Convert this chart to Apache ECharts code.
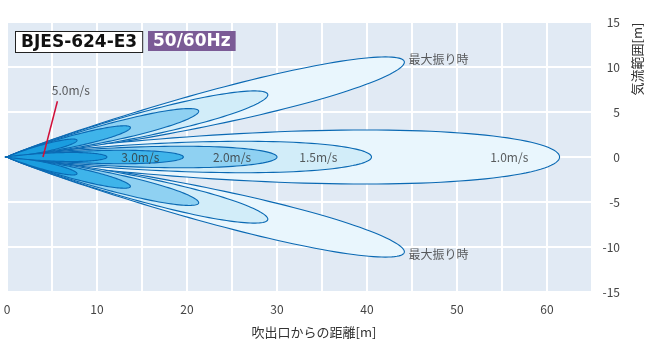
<!DOCTYPE html>
<html>
<head>
<meta charset="utf-8">
<script src="https://cdn.jsdelivr.net/npm/echarts@6/dist/echarts.min.js"></script>
<style>
  html, body { margin: 0; padding: 0; background: #fff; }
  #chart { width: 649px; height: 352px; }
</style>
</head>
<body>
<div id="chart"></div>
<script>
// 風速ごとの到達範囲（外側から順に）
const speeds = ['1.0m/s', '1.5m/s', '2.0m/s', '3.0m/s', '5.0m/s']
const centerLength = [61.4, 40.5, 30.0, 19.6, 11.1]
const centerWidth = [3.0, 1.75, 1.2, 0.75, 0.5]
const swingLength = [45.4, 29.8, 21.9, 14.1, 8.0]
const swingWidth = [2.0, 1.4, 1.0, 0.65, 0.42]
const swingAngle = 13.5 // 最大振り時の角度[deg]
const xTicks = [0, 10, 20, 30, 40, 50, 60]
const yTicks = [-15, -10, -5, 0, 5, 10, 15]

const fillColors = ['#e9f6fd', '#d2edf9', '#8fd1f2', '#3fb4ea', '#1a9ddf']
const lineColor = '#0a69b3'
const font = '"Noto Sans CJK JP", "Noto Sans", sans-serif'

// lobes: [length, halfWidth, angle, level]
const lobes = []
speeds.forEach((s, i) => {
  lobes.push([swingLength[i], swingWidth[i], swingAngle, i])
  lobes.push([swingLength[i], swingWidth[i], -swingAngle, i])
  lobes.push([centerLength[i], centerWidth[i], 0, i])
})

function renderLobe(params, api) {
  const L = api.value(0)
  const W = api.value(1)
  const ang = api.value(2) * Math.PI / 180
  const level = api.value(3)
  const a = 1.6
  const n = 60
  const top = []
  const bottom = []
  for (let i = 0; i <= n; i++) {
    const th = Math.PI * i / n
    const u = (1 - Math.cos(th)) / 2
    const t = Math.pow(u, 1 / a)
    const s = t * L
    const w = W * Math.sin(th)
    top.push([s, w])
    bottom.push([s, -w])
  }
  const outline = top.concat(bottom.reverse()).map(p => {
    const x = p[0] * Math.cos(ang) - p[1] * Math.sin(ang)
    const y = p[0] * Math.sin(ang) + p[1] * Math.cos(ang)
    return api.coord([x, y])
  })
  return {
    type: 'polygon',
    shape: { points: outline },
    style: { fill: fillColors[level], stroke: lineColor, lineWidth: 1.1 }
  }
}

const speedLabels = [
  [14.8, 0, '3.0m/s'],
  [25.0, 0, '2.0m/s'],
  [34.6, 0, '1.5m/s'],
  [55.8, 0, '1.0m/s'],
  [7.1, 7.4, '5.0m/s']
]
const swingLabels = [
  [44.6, 10.8, '最大振り時'],
  [44.6, -10.8, '最大振り時']
]

const chart = echarts.init(document.getElementById('chart'))
chart.setOption({
  animation: false,
  grid: {
    left: 7, right: 57, top: 22, bottom: 60,
    show: true, backgroundColor: '#e1eaf4', borderWidth: 0
  },
  xAxis: {
    type: 'value', min: 0, max: 65, interval: 5,
    axisLine: { show: false },
    axisTick: { show: false },
    axisLabel: {
      margin: 11, color: '#444', fontSize: 12, fontFamily: font,
      formatter: v => (xTicks.indexOf(v) >= 0 ? String(v) : '')
    },
    splitLine: { lineStyle: { color: '#fff', width: 2 } }
  },
  yAxis: {
    type: 'value', position: 'right', min: -15, max: 15, interval: 5,
    axisLine: { show: false },
    axisTick: { show: false },
    axisLabel: {
      align: 'right', margin: 28, color: '#444', fontSize: 12, fontFamily: font,
      formatter: v => (yTicks.indexOf(v) >= 0 ? String(v) : '')
    },
    splitLine: { lineStyle: { color: '#fff', width: 2 } }
  },
  series: [
    {
      type: 'custom',
      renderItem: renderLobe,
      data: lobes,
      silent: true,
      z: 2
    },
    {
      // 5.0m/s の引き出し線
      type: 'line',
      data: [[5.6, 6.2], [4.0, 0]],
      symbol: 'none',
      lineStyle: { color: '#d0103a', width: 1.5 },
      z: 4
    },
    {
      type: 'scatter',
      data: speedLabels,
      symbolSize: 0,
      z: 5,
      label: {
        show: true, position: 'inside', formatter: p => p.data[2],
        color: '#333', fontSize: 12, fontFamily: font
      }
    },
    {
      type: 'scatter',
      data: swingLabels,
      symbolSize: 0,
      z: 5,
      label: {
        show: true, position: 'right', distance: 0, formatter: p => p.data[2],
        color: '#333', fontSize: 12, fontFamily: font
      }
    }
  ],
  graphic: [
    {
      type: 'text', left: 15, top: 31, z: 10,
      style: {
        text: 'BJES-624-E3', fill: '#111', font: 'bold 17px "DejaVu Sans", sans-serif',
        backgroundColor: '#fff', borderColor: '#222', borderWidth: 1, padding: [2, 5, 1, 5]
      }
    },
    {
      type: 'text', left: 148, top: 31, z: 10,
      style: {
        text: '50/60Hz', fill: '#fff', font: 'bold 17px "DejaVu Sans", sans-serif',
        backgroundColor: '#7b5b96', padding: [2, 5, 1, 5]
      }
    },
    {
      type: 'text', x: 314, y: 332, z: 10,
      style: {
        text: '吹出口からの距離[m]', fill: '#333', font: '13px ' + font,
        align: 'center', verticalAlign: 'middle'
      }
    },
    {
      type: 'text', x: 637, y: 59, rotation: Math.PI / 2, z: 10,
      style: {
        text: '気流範囲[m]', fill: '#333', font: '13px ' + font,
        align: 'center', verticalAlign: 'middle'
      }
    }
  ]
})
</script>
</body>
</html>
